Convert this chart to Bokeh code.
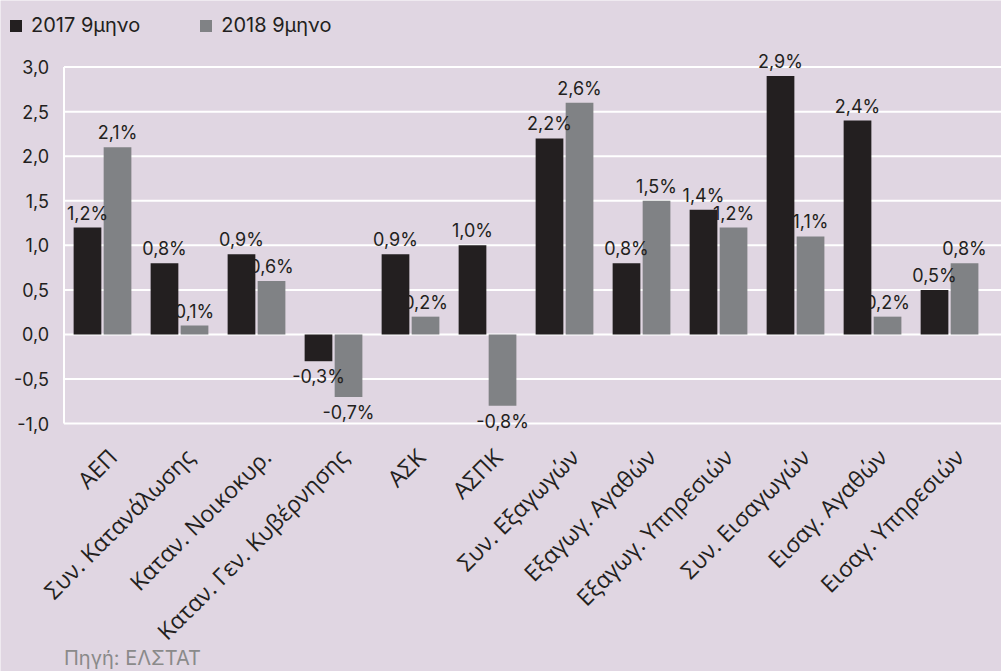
import numpy as np
from math import pi
from bokeh.plotting import figure
from bokeh.models import (Range1d, ColumnDataSource, LabelSet, Legend, LegendItem, Label)
from bokeh.core.properties import value
from bokeh.embed import file_html
from bokeh.resources import INLINE

categories = ["ΑΕΠ", "Συν. Κατανάλωσης", "Καταν. Νοικοκυρ.", "Καταν. Γεν. Κυβέρνησης",
              "ΑΣΚ", "ΑΣΠΚ", "Συν. Εξαγωγών", "Εξαγωγ. Αγαθών", "Εξαγωγ. Υπηρεσιών",
              "Συν. Εισαγωγών", "Εισαγ. Αγαθών", "Εισαγ. Υπηρεσιών"]
values_2017 = [1.2, 0.8, 0.9, -0.3, 0.9, 1.0, 2.2, 0.8, 1.4, 2.9, 2.4, 0.5]
values_2018 = [2.1, 0.1, 0.6, -0.7, 0.2, -0.8, 2.6, 1.5, 1.2, 1.1, 0.2, 0.8]
series_names = ["2017 9μηνο", "2018 9μηνο"]
y_ticks = [-1.0, -0.5, 0.0, 0.5, 1.0, 1.5, 2.0, 2.5, 3.0]
y_tick_labels = ["-1,0", "-0,5", "0,0", "0,5", "1,0", "1,5", "2,0", "2,5", "3,0"]
source_text = "Πηγή: ΕΛΣΤΑΤ"

BG = "#e0d6e2"
DARK = "#231f20"
GRAY = "#808285"
NUM_FONT = "Inter"
CAT_FONT = "Open Sans"

# the frame covers the whole canvas; the plot area starts at x=0 and spans y -1..3
X_START, X_END = -0.8247, 12.175
Y_START, Y_END = -3.781, 3.747

xc = np.arange(len(categories)) + 0.5
off = 0.195
bw = 0.36

def fmt(v):
    return ("%.1f" % v).replace(".", ",") + "%"

p = figure(width=1001, height=671, x_range=Range1d(X_START, X_END),
           y_range=Range1d(Y_START, Y_END), x_axis_location=None, y_axis_location=None,
           output_backend="svg", toolbar_location=None,
           min_border_left=0, min_border_top=0, min_border_right=0, min_border_bottom=0)
p.background_fill_color = BG
p.border_fill_color = BG
p.outline_line_color = None
p.grid.visible = False

# plot-area grid lines (white), from the plot's left edge (x=0) to the right edge
p.segment(x0=[0] * len(y_ticks), x1=[X_END] * len(y_ticks), y0=y_ticks, y1=y_ticks,
          line_color="white", line_width=2)
p.segment(x0=[0], x1=[0], y0=[min(y_ticks)], y1=[max(y_ticks)],
          line_color="white", line_width=2)

# y tick labels
ysrc = ColumnDataSource(dict(x=[0] * len(y_ticks), y=y_ticks, label=y_tick_labels))
p.add_layout(LabelSet(x="x", y="y", text="label", source=ysrc, x_offset=-15,
                      text_align="right", text_baseline="middle",
                      text_font=value(NUM_FONT), text_font_size=value("18px"),
                      text_color=value(DARK)))

# category labels, rotated 45 degrees under the plot area
csrc = ColumnDataSource(dict(x=xc, y=[min(y_ticks)] * len(categories), label=categories))
p.add_layout(LabelSet(x="x", y="y", text="label", source=csrc, angle=pi / 4,
                      x_offset=10, y_offset=-29, text_align="right", text_baseline="middle",
                      text_font=value(CAT_FONT), text_font_size=value("23px"),
                      text_color=value(DARK)))

s17 = ColumnDataSource(dict(x=xc - off, top=values_2017))
s18 = ColumnDataSource(dict(x=xc + off, top=values_2018))
r17 = p.vbar(x="x", top="top", bottom=0, width=bw, source=s17, fill_color=DARK, line_color=None)
r18 = p.vbar(x="x", top="top", bottom=0, width=bw, source=s18, fill_color=GRAY, line_color=None)

for xs, vals in ((xc - off, values_2017), (xc + off, values_2018)):
    for positive in (True, False):
        idx = [i for i, v in enumerate(vals) if (v >= 0) == positive]
        sub = ColumnDataSource(dict(x=[xs[i] for i in idx],
                                    y=[vals[i] for i in idx],
                                    label=[fmt(vals[i]) for i in idx]))
        p.add_layout(LabelSet(x="x", y="y", text="label", source=sub, text_align="center",
                              text_baseline="bottom" if positive else "top",
                              y_offset=4 if positive else -5,
                              text_font=value(NUM_FONT), text_font_size=value("18px"),
                              text_color=value(DARK)))

legend = Legend(items=[LegendItem(label=series_names[0], renderers=[r17]),
                       LegendItem(label=series_names[1], renderers=[r18])],
                location=(8, 634), orientation="horizontal",
                background_fill_alpha=0, border_line_color=None,
                glyph_width=15, glyph_height=15, label_height=15,
                label_text_font=NUM_FONT, label_text_font_size="20px",
                label_text_color=DARK, spacing=58, padding=0, margin=0,
                label_standoff=8)
p.add_layout(legend)

p.add_layout(Label(x=0, y=min(y_ticks), y_offset=-234, text=source_text,
                   text_font=NUM_FONT, text_font_size="20px", text_baseline="middle",
                   text_color="#8a8a8a"))

open("out.html", "w").write(file_html(p, INLINE))
